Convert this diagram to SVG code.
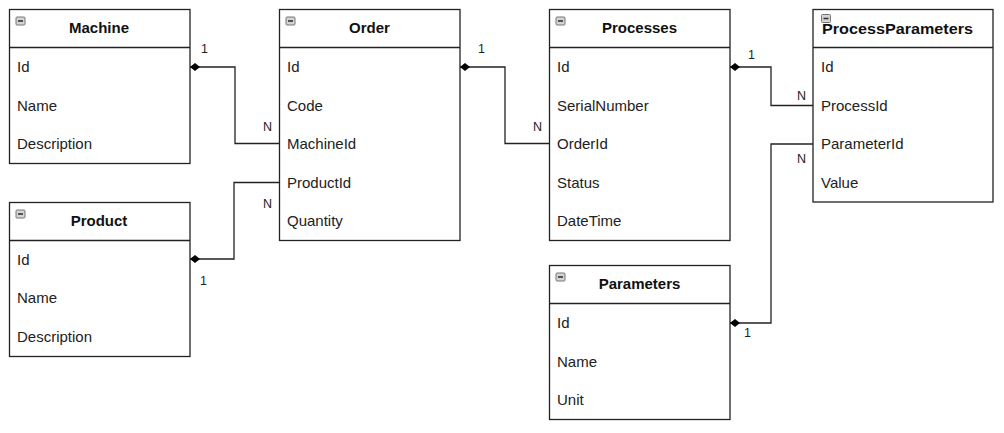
<svg xmlns="http://www.w3.org/2000/svg" width="1004" height="433" viewBox="0 0 1004 433">
<style>
.box{fill:#fff;stroke:#222;stroke-width:1.3}
.sep{stroke:#222;stroke-width:1.3}
.title{font-family:"Liberation Sans",Arial,sans-serif;font-size:15px;font-weight:bold;fill:#111;text-anchor:middle}
.f{font-family:"Liberation Sans",Arial,sans-serif;font-size:15px;fill:#222}
.lbl{font-family:"Liberation Sans",Arial,sans-serif;font-size:12.5px;fill:#222}
.ico{fill:#d4d4d4;stroke:#777;stroke-width:1}
.dash{stroke:#333;stroke-width:1.6}
.con{fill:none;stroke:#222;stroke-width:1.3}
.dia{fill:#000}
</style>
<defs>
<g id="minus"><rect class="ico" x="0.5" y="0.5" width="9" height="8" rx="1"/><line class="dash" x1="2.5" y1="4.5" x2="7.5" y2="4.5"/></g>
</defs>
<rect width="1004" height="433" fill="#fff"/>

<g id="connectors">
<path class="con" d="M190,67 H235 V143.5 H280"/>
<path class="dia" d="M190,67 L195,63 L200,67 L195,71 Z"/>
<text class="lbl" x="201" y="53">1</text>
<text class="lbl" x="263" y="131">N</text>

<path class="con" d="M280,182.5 H234 V259 H190"/>
<path class="dia" d="M190,259 L195,255 L200,259 L195,263 Z"/>
<text class="lbl" x="263" y="208">N</text>
<text class="lbl" x="200" y="285">1</text>

<path class="con" d="M460,67 H505 V143.5 H550"/>
<path class="dia" d="M460,67 L465,63 L470,67 L465,71 Z"/>
<text class="lbl" x="478" y="53">1</text>
<text class="lbl" x="533" y="131">N</text>

<path class="con" d="M730,67 H771 V105.5 H813"/>
<path class="dia" d="M730,67 L735,63 L740,67 L735,71 Z"/>
<text class="lbl" x="748" y="59">1</text>
<text class="lbl" x="797" y="100">N</text>

<path class="con" d="M813,144 H771 V323 H730"/>
<path class="dia" d="M730,323 L735,319 L740,323 L735,327 Z"/>
<text class="lbl" x="797" y="163">N</text>
<text class="lbl" x="744" y="337">1</text>
</g>

<g id="machine">
<rect class="box" x="9.5" y="9.5" width="180.5" height="154"/>
<line class="sep" x1="9.5" y1="47.5" x2="190" y2="47.5"/>
<use href="#minus" x="15.5" y="16.5"/>
<text class="title" x="99" y="33">Machine</text>
<text class="f" x="17" y="72">Id</text>
<text class="f" x="17" y="110.5">Name</text>
<text class="f" x="17" y="149">Description</text>
</g>

<g id="product">
<rect class="box" x="9.5" y="202.5" width="180.5" height="154"/>
<line class="sep" x1="9.5" y1="240.5" x2="190" y2="240.5"/>
<use href="#minus" x="15.5" y="209.5"/>
<text class="title" x="99" y="226">Product</text>
<text class="f" x="17" y="264.5">Id</text>
<text class="f" x="17" y="303">Name</text>
<text class="f" x="17" y="341.5">Description</text>
</g>

<g id="order">
<rect class="box" x="279.5" y="9.5" width="180.5" height="231"/>
<line class="sep" x1="279.5" y1="47.5" x2="460" y2="47.5"/>
<use href="#minus" x="285.5" y="16.5"/>
<text class="title" x="369.5" y="33">Order</text>
<text class="f" x="287" y="72">Id</text>
<text class="f" x="287" y="110.5">Code</text>
<text class="f" x="287" y="149">MachineId</text>
<text class="f" x="287" y="187.5">ProductId</text>
<text class="f" x="287" y="226">Quantity</text>
</g>

<g id="processes">
<rect class="box" x="549.5" y="9.5" width="180.5" height="231"/>
<line class="sep" x1="549.5" y1="47.5" x2="730" y2="47.5"/>
<use href="#minus" x="555.5" y="16.5"/>
<text class="title" x="639.5" y="33">Processes</text>
<text class="f" x="557" y="72">Id</text>
<text class="f" x="557" y="110.5">SerialNumber</text>
<text class="f" x="557" y="149">OrderId</text>
<text class="f" x="557" y="187.5">Status</text>
<text class="f" x="557" y="226">DateTime</text>
</g>

<g id="processparameters">
<rect class="box" x="813" y="9.5" width="180" height="192.5"/>
<line class="sep" x1="813" y1="47.5" x2="993" y2="47.5"/>
<use href="#minus" x="821" y="14"/>
<text class="title" x="822" y="33.5" style="text-anchor:start" textLength="151" lengthAdjust="spacingAndGlyphs">ProcessParameters</text>
<text class="f" x="821" y="72">Id</text>
<text class="f" x="821" y="110.5">ProcessId</text>
<text class="f" x="821" y="149">ParameterId</text>
<text class="f" x="821" y="187.5">Value</text>
</g>

<g id="parameters">
<rect class="box" x="549.5" y="265.5" width="180.5" height="154"/>
<line class="sep" x1="549.5" y1="303.5" x2="730" y2="303.5"/>
<use href="#minus" x="555.5" y="272.5"/>
<text class="title" x="639.5" y="289">Parameters</text>
<text class="f" x="557" y="328">Id</text>
<text class="f" x="557" y="366.5">Name</text>
<text class="f" x="557" y="405">Unit</text>
</g>
</svg>
